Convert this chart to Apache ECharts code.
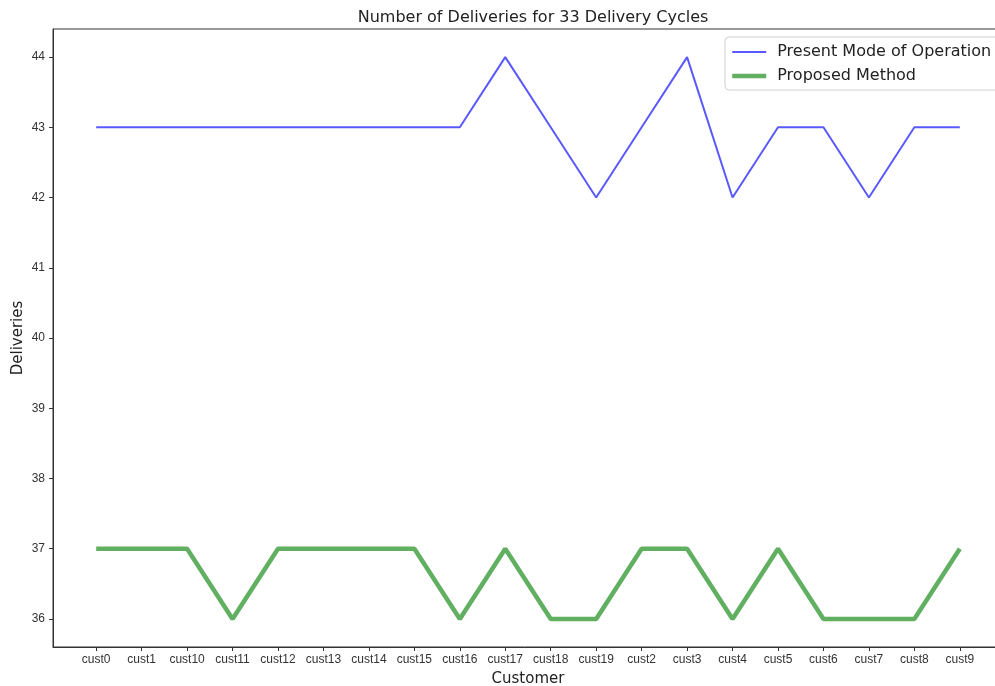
<!DOCTYPE html>
<html>
<head>
<meta charset="utf-8">
<script src="https://cdn.jsdelivr.net/npm/echarts@6/dist/echarts.min.js"></script>
<style>
  html, body { margin: 0; padding: 0; background: #fff; }
  #chart { width: 995px; height: 686px; }
</style>
</head>
<body>
<div id="chart"></div>
<script>
const customers = ['cust0', 'cust1', 'cust10', 'cust11', 'cust12', 'cust13', 'cust14', 'cust15', 'cust16', 'cust17',
  'cust18', 'cust19', 'cust2', 'cust3', 'cust4', 'cust5', 'cust6', 'cust7', 'cust8', 'cust9']
const presentMode = [43, 43, 43, 43, 43, 43, 43, 43, 43, 44, 43, 42, 43, 44, 42, 43, 43, 42, 43, 43]
const proposed = [37, 37, 37, 36, 37, 37, 37, 37, 36, 37, 36, 36, 37, 37, 36, 37, 36, 36, 36, 37]
const yTicks = [36, 37, 38, 39, 40, 41, 42, 43, 44]

const xIdx = customers.map((c, i) => i)
const toPoints = (vals) => vals.map((v, i) => [i, v])

const chart = echarts.init(document.getElementById('chart'))
const tickFont = 'Liberation Sans, sans-serif'
const textFont = 'DejaVu Sans, sans-serif'
const spine = '#333'
const blue = 'rgba(0,0,255,0.65)'
const green = 'rgba(0,128,0,0.62)'

chart.setOption({
  animation: false,
  title: {
    text: 'Number of Deliveries for 33 Delivery Cycles',
    left: 528,
    textAlign: 'center',
    top: 5,
    textStyle: { fontFamily: textFont, fontSize: 16, fontWeight: 'normal', color: '#222' }
  },
  legend: {
    left: 725,
    top: 37,
    orient: 'vertical',
    itemWidth: 34,
    itemHeight: 14,
    itemGap: 8,
    padding: [7, 20, 6, 5],
    borderColor: '#d0d0d0',
    borderWidth: 1,
    borderRadius: 4,
    itemStyle: { opacity: 0 },
    textStyle: { fontFamily: textFont, fontSize: 16, color: '#222', padding: [0, 0, 0, 6] },
    data: [
      { name: 'Present Mode of Operation', lineStyle: { color: blue, width: 2 } },
      { name: 'Proposed Method', lineStyle: { color: green, width: 4.5 } }
    ]
  },
  grid: {
    left: 53, top: 29, width: 950, bottom: 39,
    outerBoundsMode: 'none', containLabel: false,
    show: true, borderColor: spine, borderWidth: 1
  },
  xAxis: {
    type: 'value',
    min: -0.95,
    max: 19.95,
    name: 'Customer',
    nameLocation: 'middle',
    nameGap: 25,
    nameTextStyle: { fontFamily: textFont, fontSize: 15, color: '#222' },
    splitLine: { show: false },
    axisLine: { onZero: false, lineStyle: { color: spine, width: 1 } },
    axisTick: { customValues: xIdx, length: 4, lineStyle: { color: spine } },
    axisLabel: {
      customValues: xIdx,
      formatter: (v) => customers[Math.round(v)],
      fontFamily: tickFont,
      fontSize: 12,
      color: '#333',
      margin: 7
    }
  },
  yAxis: {
    type: 'value',
    min: 35.6,
    max: 44.4,
    name: 'Deliveries',
    nameLocation: 'middle',
    nameGap: 27,
    nameMoveOverlap: false,
    nameTextStyle: { fontFamily: textFont, fontSize: 15, color: '#222' },
    splitLine: { show: false },
    axisLine: { show: true, onZero: false, lineStyle: { color: spine, width: 1 } },
    axisTick: { show: true, customValues: yTicks, length: 4, lineStyle: { color: spine } },
    axisLabel: {
      customValues: yTicks,
      fontFamily: tickFont,
      fontSize: 12,
      color: '#333',
      margin: 8
    }
  },
  series: [
    {
      name: 'Present Mode of Operation',
      type: 'line',
      data: toPoints(presentMode),
      symbol: 'none',
      lineStyle: { color: blue, width: 2 },
      itemStyle: { color: blue }
    },
    {
      name: 'Proposed Method',
      type: 'line',
      data: toPoints(proposed),
      symbol: 'none',
      lineStyle: { color: green, width: 4.5 },
      itemStyle: { color: green }
    }
  ]
})
</script>
</body>
</html>
